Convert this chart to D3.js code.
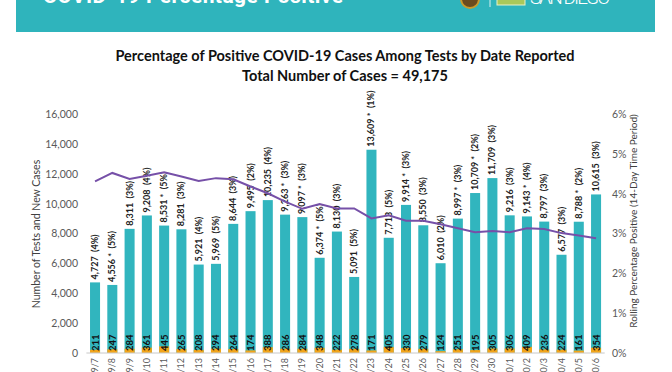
<!DOCTYPE html>
<html>
<head>
<meta charset="utf-8">
<script src="https://cdn.jsdelivr.net/npm/d3@7"></script>
<style>
  body { margin: 0; background: #fff; }
  svg { font-family: Lato, "Open Sans", sans-serif; display: block; }
</style>
</head>
<body>
<div class="graph-container"></div>
<script>
const dates = ["9/7","9/8","9/9","9/10","9/11","9/12","9/13","9/14","9/15","9/16","9/17","9/18","9/19","9/20","9/21",
  "9/22","9/23","9/24","9/25","9/26","9/27","9/28","9/29","9/30","10/1","10/2","10/3","10/4","10/5","10/6"];
const totalTests = [4727,4556,8311,9208,8531,8281,5921,5969,8644,9495,10235,9263,9097,6374,8130,
  5091,13609,7713,9914,8550,6010,8997,10709,11709,9216,9143,8797,6577,8788,10615];
const newCases = [211,247,284,361,445,265,208,294,264,174,388,286,284,348,222,
  278,171,405,330,279,124,251,195,305,306,409,236,224,161,354];
const starred = [0,1,0,0,1,0,0,0,0,0,0,1,1,1,0,0,1,0,1,0,0,1,1,0,0,1,0,0,1,0];
const dayPct = [4,5,3,4,5,3,4,5,3,2,4,3,3,5,3,5,1,5,3,3,2,3,2,3,3,4,3,3,2,3];
const rollingPct = [4.31,4.52,4.37,4.45,4.54,4.43,4.32,4.39,4.36,4.18,4.01,3.80,3.62,3.74,3.63,
  3.63,3.38,3.46,3.32,3.32,3.23,3.13,3.03,3.06,3.03,3.13,3.11,3.01,2.95,2.88];
const leftTicks = [0,2000,4000,6000,8000,10000,12000,14000,16000];
const rightTicks = [0,1,2,3,4,5,6];

const dims = { width: 672, height: 372, left: 86.4, right: 604.7, top: 114, bottom: 353 };
const teal = "#31b5be", orange = "#f2a51a", purple = "#7650a8", grey = "#595959";

const svg = d3.select(".graph-container").append("svg")
  .attr("width", dims.width).attr("height", dims.height);

// header band (cut off at top in the source)
const header = svg.append("g");
header.append("rect").attr("x", 16).attr("y", 0).attr("width", 639).attr("height", 32).attr("fill", "#2fb4bc");
header.append("text").attr("x", 43).attr("y", 3).attr("fill", "#fff").attr("font-weight", 700)
  .attr("font-size", 21).attr("textLength", 300).attr("font-family", "Roboto, sans-serif")
  .text("COVID-19 Percentage Positive");
header.append("circle").attr("cx", 470).attr("cy", -1).attr("r", 9).attr("fill", "#6b4a1e").attr("stroke", "#c99a2e").attr("stroke-width", 2);
header.append("line").attr("x1", 490).attr("x2", 490).attr("y1", 0).attr("y2", 7).attr("stroke", "#d8f0f2");
header.append("rect").attr("x", 497).attr("y", -4).attr("width", 28).attr("height", 9).attr("fill", "#a9c85a").attr("stroke", "#e8f2c8");
header.append("text").attr("x", 530).attr("y", 4).attr("fill", "#fff").attr("font-size", 19)
  .attr("font-family", "Roboto, sans-serif").attr("font-weight", 300).attr("textLength", 80).text("SAN DIEGO");

// titles
svg.append("text").attr("x", 345).attr("y", 61).attr("text-anchor", "middle").attr("font-weight", 700)
  .attr("font-size", 14.5).attr("fill", "#111").text("Percentage of Positive COVID-19 Cases Among Tests by Date Reported");
svg.append("text").attr("x", 345).attr("y", 81).attr("text-anchor", "middle").attr("font-weight", 700)
  .attr("font-size", 14.5).attr("fill", "#111").text("Total Number of Cases = 49,175");

const x = d3.scaleBand().domain(dates).range([dims.left, dims.right]).paddingInner(0.42).paddingOuter(0.21);
const y = d3.scaleLinear().domain([0, 16000]).range([dims.bottom, dims.top]);
const y2 = d3.scaleLinear().domain([0, 6]).range([dims.bottom, dims.top]);

const data = dates.map((d, i) => ({
  date: d, total: totalTests[i], cases: newCases[i], star: starred[i], pct: dayPct[i], roll: rollingPct[i]
}));

// axes
const leftAxis = svg.append("g").attr("transform", `translate(78,0)`)
  .call(d3.axisLeft(y).tickValues(leftTicks).tickSize(0).tickFormat(d3.format(",")));
leftAxis.select(".domain").remove();
leftAxis.selectAll("text").attr("fill", grey).attr("font-size", 10.5).attr("x", 0).attr("font-family", "Lato, sans-serif");

const rightAxis = svg.append("g").attr("transform", `translate(612,0)`)
  .call(d3.axisRight(y2).tickValues(rightTicks).tickSize(0).tickFormat(d => d + "%"));
rightAxis.select(".domain").remove();
rightAxis.selectAll("text").attr("fill", grey).attr("font-size", 10.5).attr("x", 0).attr("font-family", "Lato, sans-serif");

svg.append("text").attr("transform", "translate(40,234) rotate(-90)").attr("text-anchor", "middle")
  .attr("font-size", 10.5).attr("fill", "#404040").text("Number of Tests and New Cases");
svg.append("text").attr("transform", "translate(637,221) rotate(-90)").attr("text-anchor", "middle")
  .attr("font-size", 10).attr("fill", "#404040").text("Rolling Percentage Positive (14-Day Time Period)");

// bars
const bars = svg.append("g");
bars.selectAll("rect.total").data(data).enter().append("rect").attr("class", "total")
  .attr("x", d => x(d.date)).attr("width", x.bandwidth())
  .attr("y", d => y(d.total)).attr("height", d => y(0) - y(d.total)).attr("fill", teal);
bars.selectAll("rect.cases").data(data).enter().append("rect").attr("class", "cases")
  .attr("x", d => x(d.date)).attr("width", x.bandwidth())
  .attr("y", d => y(d.cases)).attr("height", d => y(0) - y(d.cases)).attr("fill", orange);

svg.append("line").attr("x1", dims.left).attr("x2", dims.right).attr("y1", dims.bottom).attr("y2", dims.bottom)
  .attr("stroke", "#c8c8c8");

// value labels
const fmt = d3.format(",");
svg.selectAll("text.total").data(data).enter().append("text").attr("class", "total")
  .attr("transform", d => `translate(${x(d.date) + x.bandwidth() / 2 + 3},${y(d.total) - 3}) rotate(-90)`)
  .attr("font-size", 9).attr("font-weight", 700).attr("fill", "#222").style("white-space", "pre")
  .text(d => `${fmt(d.total)}${d.star ? " *" : ""}  (${d.pct}%)`);

svg.selectAll("text.cases").data(data).enter().append("text").attr("class", "cases")
  .attr("transform", d => `translate(${x(d.date) + x.bandwidth() / 2 + 3.5},351) rotate(-90)`)
  .attr("font-size", 9.5).attr("font-weight", 700).attr("fill", "#111")
  .text(d => d.cases);

// x labels
svg.selectAll("text.date").data(data).enter().append("text").attr("class", "date")
  .attr("transform", d => `translate(${x(d.date) + x.bandwidth() / 2 + 3},358) rotate(-90)`)
  .attr("text-anchor", "end").attr("font-size", 9).attr("fill", grey)
  .text(d => d.date);

// rolling line
const line = d3.line().x(d => x(d.date) + x.bandwidth() / 2).y(d => y2(d.roll));
svg.append("path").datum(data).attr("d", line).attr("fill", "none")
  .attr("stroke", purple).attr("stroke-width", 2);
</script>
</body>
</html>
